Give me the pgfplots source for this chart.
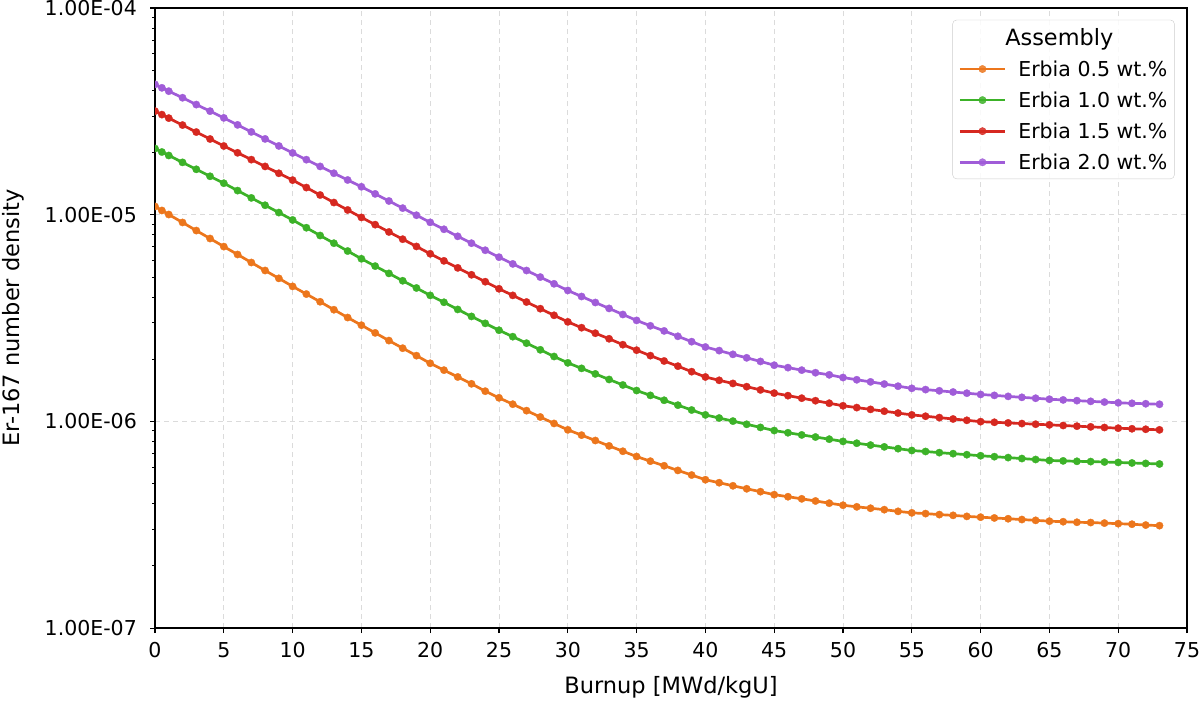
\documentclass[border=0pt]{standalone}
\usepackage{fontspec}
\setmainfont{DejaVu Sans}
\usepackage{pgfplots}
\pgfplotsset{compat=1.18}
\usepackage{pgfplotstable}

\definecolor{cO}{RGB}{236,118,28}
\definecolor{cG}{RGB}{60,178,40}
\definecolor{cR}{RGB}{214,40,32}
\definecolor{cP}{RGB}{160,92,216}

\pgfplotstableread{
x p r g o
0 4.27e-5 3.17e-5 2.09e-5 1.096e-5
0.5 4.11e-5 3.05e-5 2.01e-5 1.048e-5
1 3.96e-5 2.933e-5 1.934e-5 1.002e-5
2 3.68e-5 2.714e-5 1.791e-5 9.17e-6
3 3.41e-5 2.511e-5 1.658e-5 8.38e-6
4 3.17e-5 2.324e-5 1.534e-5 7.67e-6
5 2.94e-5 2.15e-5 1.42e-5 7.01e-6
6 2.72e-5 1.993e-5 1.308e-5 6.42e-6
7 2.515e-5 1.847e-5 1.206e-5 5.87e-6
8 2.326e-5 1.712e-5 1.111e-5 5.37e-6
9 2.151e-5 1.586e-5 1.024e-5 4.92e-6
10 1.99e-5 1.47e-5 9.43e-6 4.50e-6
11 1.846e-5 1.353e-5 8.65e-6 4.13e-6
12 1.712e-5 1.245e-5 7.93e-6 3.79e-6
13 1.587e-5 1.145e-5 7.28e-6 3.47e-6
14 1.472e-5 1.054e-5 6.67e-6 3.18e-6
15 1.365e-5 9.70e-6 6.12e-6 2.92e-6
16 1.261e-5 8.95e-6 5.64e-6 2.68e-6
17 1.165e-5 8.25e-6 5.20e-6 2.46e-6
18 1.076e-5 7.61e-6 4.79e-6 2.26e-6
19 9.94e-6 7.02e-6 4.42e-6 2.08e-6
20 9.18e-6 6.47e-6 4.07e-6 1.91e-6
21 8.50e-6 5.98e-6 3.77e-6 1.77e-6
22 7.86e-6 5.53e-6 3.48e-6 1.64e-6
23 7.28e-6 5.12e-6 3.22e-6 1.52e-6
24 6.73e-6 4.74e-6 2.98e-6 1.40e-6
25 6.23e-6 4.38e-6 2.76e-6 1.30e-6
26 5.78e-6 4.07e-6 2.57e-6 1.211e-6
27 5.37e-6 3.78e-6 2.39e-6 1.127e-6
28 4.99e-6 3.51e-6 2.22e-6 1.050e-6
29 4.63e-6 3.26e-6 2.06e-6 9.77e-7
30 4.30e-6 3.03e-6 1.92e-6 9.10e-7
31 4.02e-6 2.84e-6 1.805e-6 8.58e-7
32 3.76e-6 2.67e-6 1.697e-6 8.08e-7
33 3.52e-6 2.51e-6 1.595e-6 7.61e-7
34 3.29e-6 2.35e-6 1.500e-6 7.17e-7
35 3.08e-6 2.21e-6 1.41e-6 6.76e-7
36 2.90e-6 2.08e-6 1.336e-6 6.42e-7
37 2.74e-6 1.96e-6 1.265e-6 6.10e-7
38 2.58e-6 1.85e-6 1.198e-6 5.79e-7
39 2.43e-6 1.74e-6 1.135e-6 5.50e-7
40 2.29e-6 1.64e-6 1.075e-6 5.22e-7
41 2.20e-6 1.58e-6 1.038e-6 5.05e-7
42 2.11e-6 1.526e-6 1.003e-6 4.88e-7
43 2.03e-6 1.472e-6 9.68e-7 4.72e-7
44 1.95e-6 1.420e-6 9.35e-7 4.57e-7
45 1.87e-6 1.37e-6 9.03e-7 4.42e-7
46 1.82e-6 1.332e-6 8.81e-7 4.32e-7
47 1.77e-6 1.295e-6 8.60e-7 4.22e-7
48 1.72e-6 1.259e-6 8.40e-7 4.12e-7
49 1.68e-6 1.224e-6 8.20e-7 4.02e-7
50 1.63e-6 1.19e-6 8.00e-7 3.93e-7
51 1.59e-6 1.166e-6 7.84e-7 3.86e-7
52 1.553e-6 1.143e-6 7.68e-7 3.80e-7
53 1.516e-6 1.120e-6 7.53e-7 3.74e-7
54 1.480e-6 1.097e-6 7.38e-7 3.67e-7
55 1.445e-6 1.075e-6 7.23e-7 3.61e-7
56 1.425e-6 1.059e-6 7.15e-7 3.58e-7
57 1.406e-6 1.043e-6 7.06e-7 3.54e-7
58 1.387e-6 1.027e-6 6.98e-7 3.51e-7
59 1.369e-6 1.012e-6 6.90e-7 3.47e-7
60 1.35e-6 9.97e-7 6.82e-7 3.44e-7
61 1.336e-6 9.90e-7 6.75e-7 3.41e-7
62 1.321e-6 9.83e-7 6.68e-7 3.38e-7
63 1.307e-6 9.76e-7 6.61e-7 3.35e-7
64 1.294e-6 9.69e-7 6.54e-7 3.32e-7
65 1.28e-6 9.62e-7 6.47e-7 3.29e-7
66 1.270e-6 9.55e-7 6.44e-7 3.27e-7
67 1.260e-6 9.48e-7 6.41e-7 3.25e-7
68 1.250e-6 9.41e-7 6.39e-7 3.24e-7
69 1.240e-6 9.34e-7 6.36e-7 3.22e-7
70 1.23e-6 9.27e-7 6.33e-7 3.20e-7
71 1.223e-6 9.21e-7 6.29e-7 3.18e-7
72 1.217e-6 9.16e-7 6.26e-7 3.15e-7
73 1.21e-6 9.10e-7 6.22e-7 3.13e-7
}\data

\begin{document}
\begin{tikzpicture}
\begin{axis}[name=ax, scale only axis, width=1032pt, height=620pt,
  xmin=0, xmax=75, ymin=1e-7, ymax=1e-4, ymode=log,
  xtick={0,5,...,75},
  ytick={1e-7,1e-6,1e-5,1e-4},
  yticklabels={1.00E-07,1.00E-06,1.00E-05,1.00E-04},
  minor ytick={2e-7,3e-7,4e-7,5e-7,6e-7,7e-7,8e-7,9e-7,2e-6,3e-6,4e-6,5e-6,6e-6,7e-6,8e-6,9e-6,2e-5,3e-5,4e-5,5e-5,6e-5,7e-5,8e-5,9e-5},
  /pgf/number format/assume math mode=true,
  tick align=outside, xtick pos=bottom, ytick pos=left,
  major tick length=5pt, minor tick length=3pt,
  every major tick/.style={black, line width=1.1pt},
  every minor tick/.style={black, line width=0.8pt},
  axis line style={line width=1.3pt},
  grid=major,
  major grid style={dash pattern=on 5pt off 4pt, black!14, line width=0.9pt},
  tick label style={font=\fontsize{20.5}{24}\selectfont},
  xticklabel style={anchor=north, inner sep=0pt, yshift=-9pt},
  yticklabel style={anchor=east, inner sep=0pt, xshift=-13pt},
  label style={font=\fontsize{22.5}{26}\selectfont},
  xlabel={Burnup [MWd/kgU]},
  ylabel={Er-167 number density},
  xlabel style={at={(axis description cs:0.5,-0.1048)}, anchor=base},
  ylabel style={at={(axis description cs:-0.1313,0.5)}, anchor=base, rotate=0},
  clip marker paths=true,
  legend style={at={(rel axis cs:0.988,0.981)}, anchor=north east,
    draw=black!20, rounded corners=4pt, fill=white, fill opacity=0.85, text opacity=1,
    font=\fontsize{20.5}{24}\selectfont, row sep=12pt, column sep=11pt,
    inner xsep=6pt, inner ysep=7pt,
    nodes={inner sep=1pt}},
  legend cell align=left,
  legend image code/.code={\draw[#1, mark repeat=2, mark phase=2] plot coordinates {(0pt,0pt) (22.5pt,0pt) (45pt,0pt)};},
  every axis plot/.append style={line width=2.7pt, mark=*, mark size=3.7pt},
]
\addlegendimage{empty legend}
\addlegendentry{\fontsize{22.4}{26}\selectfont\hspace*{-13pt}Assembly}
\addplot[color=cO, mark options={solid, fill=cO, draw=cO, line width=0.3pt}] table[x=x,y=o]{\data};
\addlegendentry{Erbia 0.5 wt.\%}
\addplot[color=cG, mark options={solid, fill=cG, draw=cG, line width=0.3pt}] table[x=x,y=g]{\data};
\addlegendentry{Erbia 1.0 wt.\%}
\addplot[color=cR, mark options={solid, fill=cR, draw=cR, line width=0.3pt}] table[x=x,y=r]{\data};
\addlegendentry{Erbia 1.5 wt.\%}
\addplot[color=cP, mark options={solid, fill=cP, draw=cP, line width=0.3pt}] table[x=x,y=p]{\data};
\addlegendentry{Erbia 2.0 wt.\%}
\end{axis}
\pgfresetboundingbox
\path[use as bounding box] ([xshift=-155pt,yshift=-72pt]ax.south west) rectangle ([xshift=13pt,yshift=8pt]ax.north east);
\end{tikzpicture}
\end{document}
